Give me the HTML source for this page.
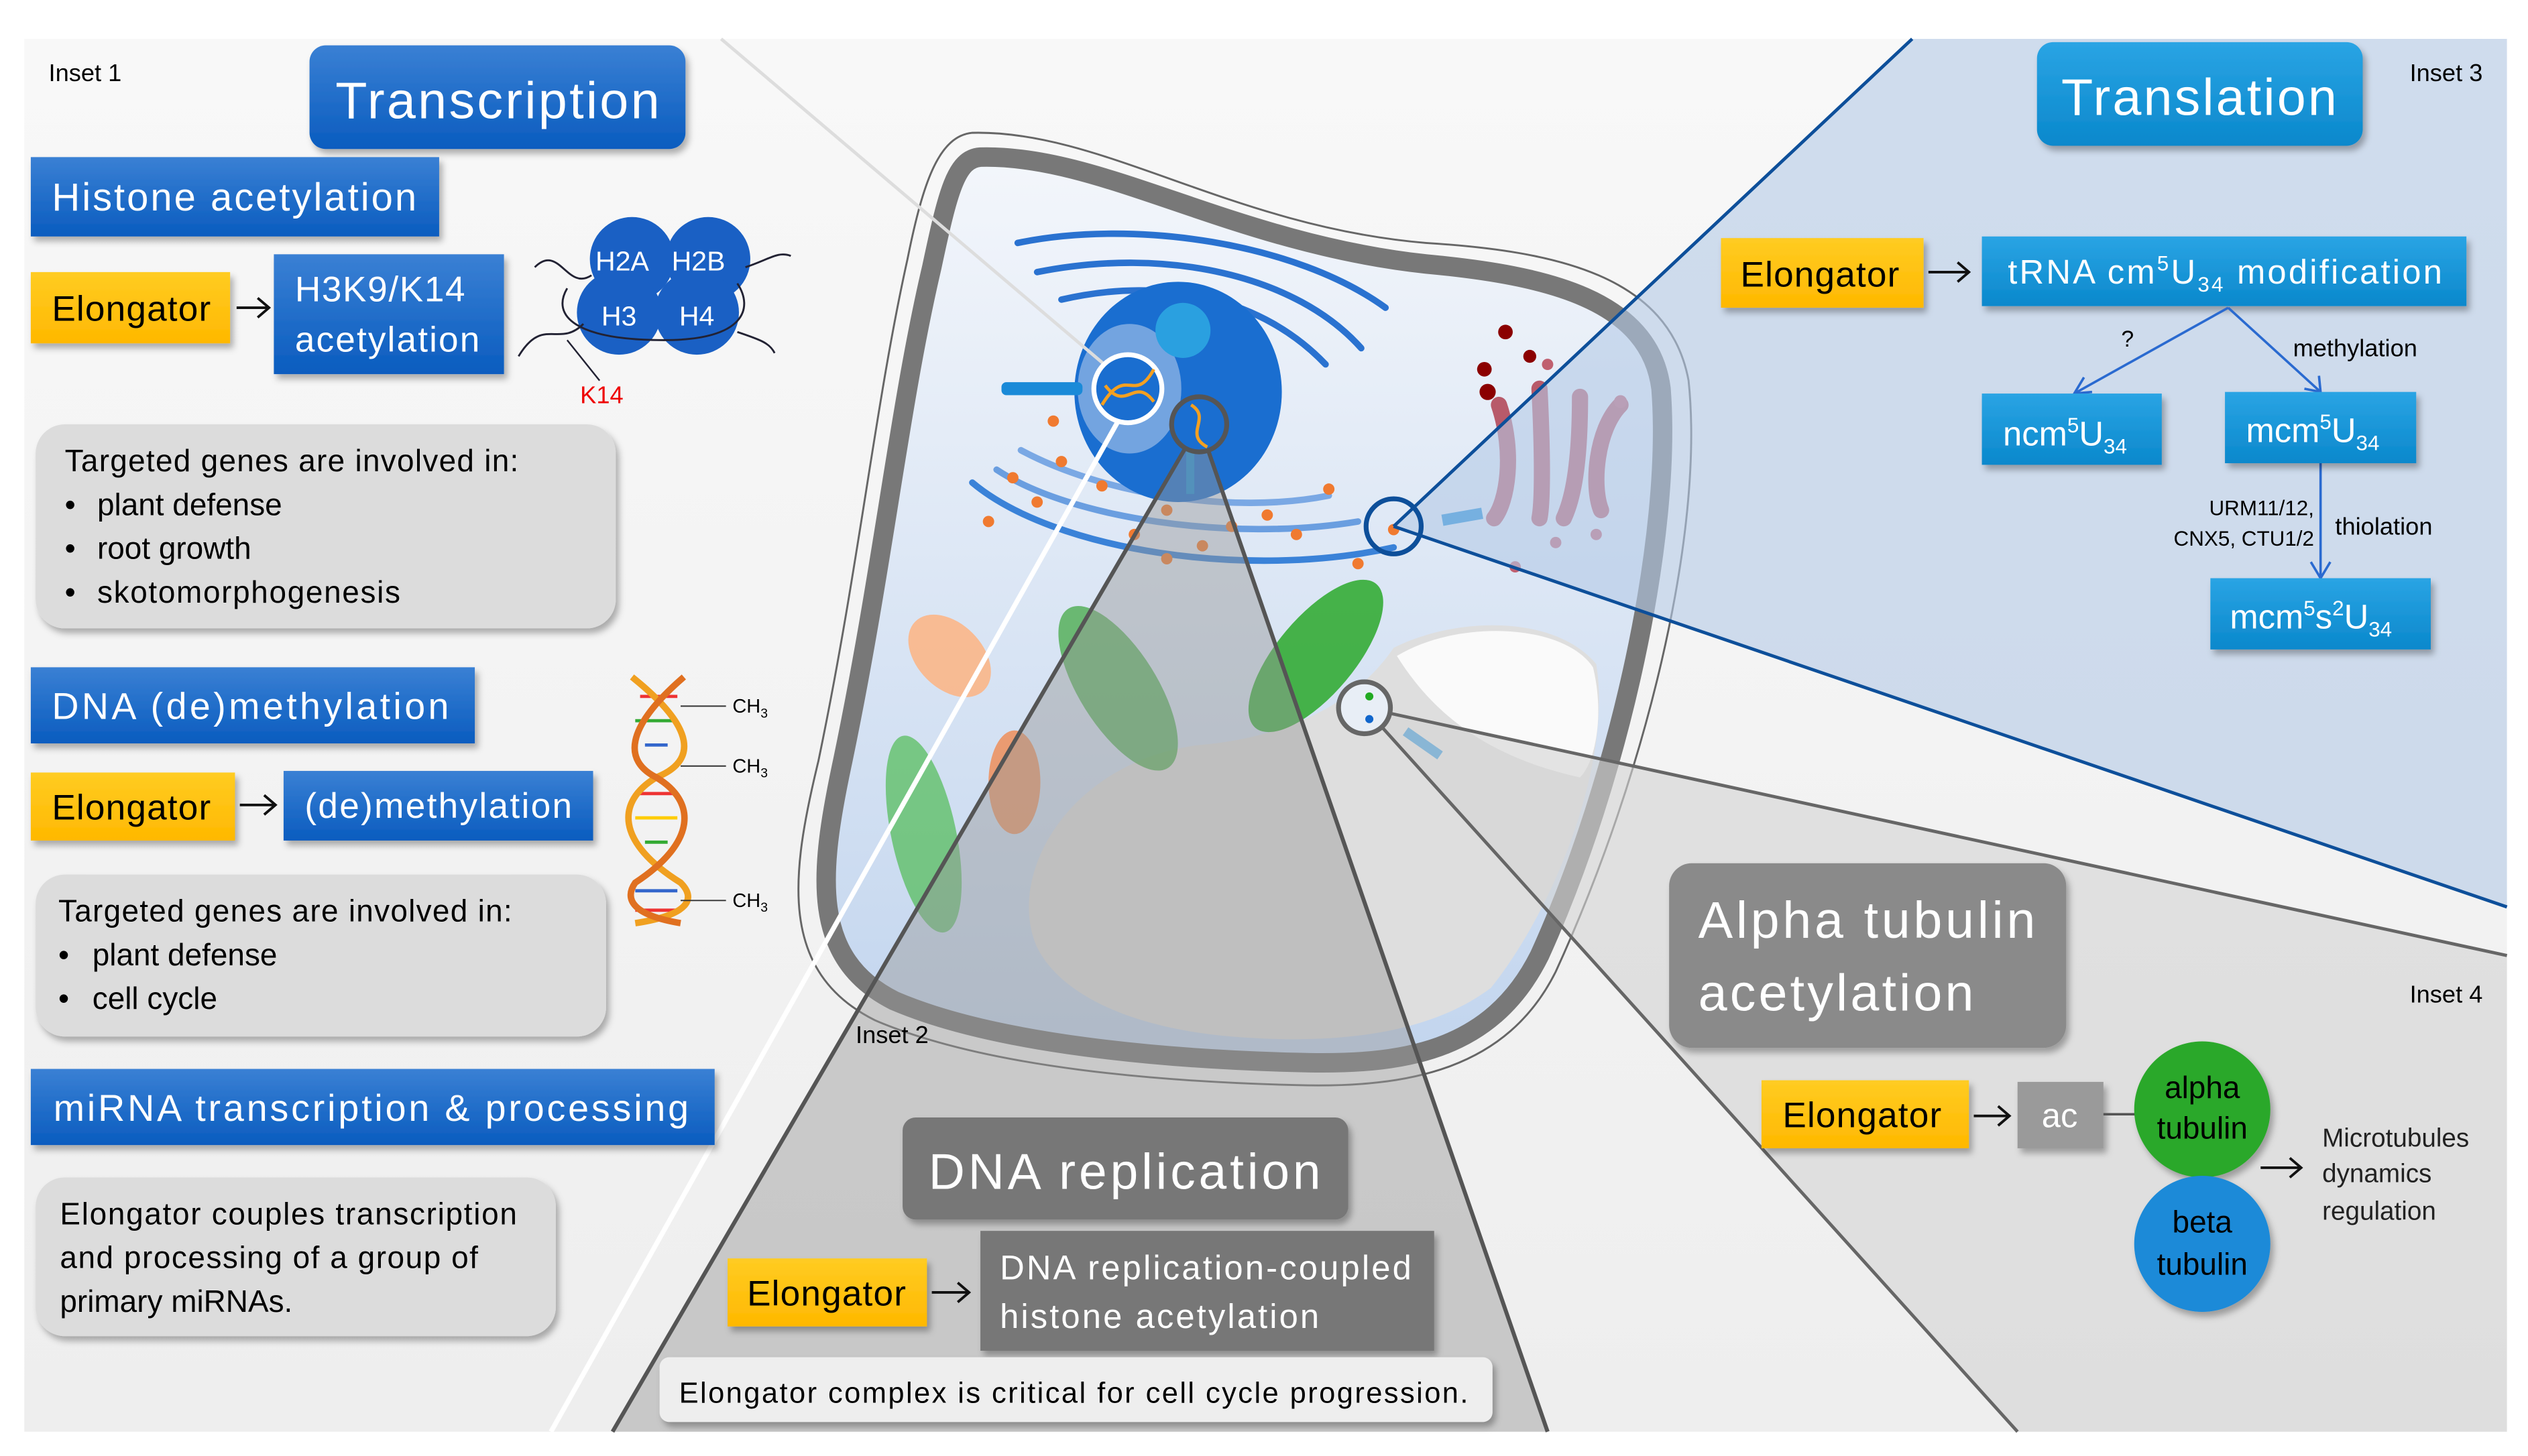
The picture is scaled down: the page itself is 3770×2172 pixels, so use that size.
<!DOCTYPE html>
<html><head><meta charset="utf-8"><style>
html,body{margin:0;padding:0;background:#fff}
svg{display:block}
text{font-family:"Liberation Sans",sans-serif}
</style></head><body>
<svg width="3770" height="2172" viewBox="0 0 1560 899" preserveAspectRatio="none" xmlns="http://www.w3.org/2000/svg">
<defs>
<linearGradient id="bg" x1="0" y1="0" x2="0" y2="1"><stop offset="0" stop-color="#f8f8f8"/><stop offset="1" stop-color="#eeeeee"/></linearGradient>
<linearGradient id="blue" x1="0" y1="0" x2="0" y2="1"><stop offset="0" stop-color="#3a80d4"/><stop offset="1" stop-color="#0a5cbf"/></linearGradient>
<linearGradient id="lblue" x1="0" y1="0" x2="0" y2="1"><stop offset="0" stop-color="#2aa4e4"/><stop offset="1" stop-color="#0a88cc"/></linearGradient>
<linearGradient id="yel" x1="0" y1="0" x2="0" y2="1"><stop offset="0" stop-color="#ffcc22"/><stop offset="1" stop-color="#ffb800"/></linearGradient>
<linearGradient id="cellf" x1="0" y1="0" x2="0" y2="1"><stop offset="0" stop-color="#f3f6fb"/><stop offset="1" stop-color="#c2d5ee"/></linearGradient>
<filter id="sh" x="-10%" y="-10%" width="130%" height="140%"><feDropShadow dx="2" dy="3" stdDeviation="2" flood-color="#000" flood-opacity="0.3"/></filter>
</defs>
<rect x="15" y="24" width="1532" height="860" fill="url(#bg)"/>

<!-- cell -->
<path d="M600,82 C680,80 760,140 880,150 C960,155 1030,170 1042,235 C1052,330 1015,480 960,600 C930,660 870,672 800,670 C720,668 610,660 540,630 C480,600 488,540 505,470 C530,350 540,250 560,160 C570,110 580,84 600,82Z" fill="none" stroke="#666" stroke-width="1.2"/>
<path d="M605,97 C680,95 760,150 880,163 C955,170 1018,185 1025,240 C1032,330 1000,480 950,590 C920,650 865,658 800,656 C720,654 615,645 552,618 C500,592 505,540 520,470 C545,350 555,250 575,165 C585,118 590,98 605,97Z" fill="url(#cellf)" stroke="#787878" stroke-width="12"/>
<!-- vacuole -->
<path d="M640,585 C620,540 660,470 740,460 C800,455 840,430 860,400 C900,380 960,380 985,410 C995,470 960,560 920,610 C880,640 820,645 760,640 C700,635 655,615 640,585Z" fill="#dedede"/>
<path d="M862,405 C900,382 965,385 983,412 C990,440 985,470 975,480 C930,470 890,450 862,405Z" fill="#fafafa"/>
<!-- chloroplasts -->
<ellipse cx="690" cy="425" rx="24" ry="58" transform="rotate(-32 690 425)" fill="#3aa53a" opacity="0.7"/>
<ellipse cx="812" cy="405" rx="24" ry="58" transform="rotate(40 812 405)" fill="#2aa82a" opacity="0.85"/>
<ellipse cx="570" cy="515" rx="20" ry="62" transform="rotate(-12 570 515)" fill="#3ab53a" opacity="0.6"/>
<ellipse cx="586" cy="405" rx="20" ry="30" transform="rotate(-45 586 405)" fill="#ffb07a" opacity="0.8"/>
<ellipse cx="626" cy="483" rx="16" ry="32" fill="#f08a50" opacity="0.8"/>
<!-- ER -->
<g fill="none" stroke="#2a72d0" stroke-width="4" stroke-linecap="round">
<path d="M628,150 C700,135 800,150 855,190"/>
<path d="M640,168 C720,152 800,170 840,215"/>
<path d="M655,185 C720,170 780,185 818,225"/>
<path d="M600,298 C650,340 770,358 860,338" stroke="#3a82d8"/>
<path d="M615,290 C660,320 760,335 838,322" stroke="#6a9ee0"/>
<path d="M630,278 C680,305 760,318 820,306" stroke="#7aa8e4"/>
</g>
<g fill="#f07a30">
<circle cx="610" cy="322" r="3.5"/><circle cx="640" cy="310" r="3.5"/><circle cx="655" cy="285" r="3.5"/><circle cx="680" cy="300" r="3.5"/><circle cx="700" cy="330" r="3.5"/><circle cx="720" cy="315" r="3.5"/><circle cx="742" cy="337" r="3.5"/><circle cx="760" cy="325" r="3.5"/><circle cx="782" cy="318" r="3.5"/><circle cx="820" cy="302" r="3.5"/><circle cx="800" cy="330" r="3.5"/><circle cx="650" cy="260" r="3.5"/><circle cx="720" cy="345" r="3.5"/><circle cx="838" cy="348" r="3.5"/><circle cx="860" cy="327" r="3.5"/><circle cx="625" cy="295" r="3.5"/>
</g>
<!-- golgi -->
<g fill="none" stroke="#b85a6a" stroke-width="10" stroke-linecap="round">
<path d="M925,250 C935,280 930,310 922,320"/><path d="M950,240 C952,280 952,310 950,320"/><path d="M975,245 C975,280 972,305 965,320"/><path d="M1000,250 C985,265 982,300 988,315"/>
</g>
<g fill="#8b0000"><circle cx="929" cy="205" r="4.5"/><circle cx="916" cy="228" r="4.5"/><circle cx="944" cy="220" r="4"/><circle cx="918" cy="242" r="5"/></g>
<g fill="#c06070"><circle cx="935" cy="350" r="3.5"/><circle cx="960" cy="335" r="3.5"/><circle cx="985" cy="330" r="3.5"/><circle cx="1000" cy="248" r="4"/><circle cx="955" cy="225" r="3.5"/></g>
<!-- nucleus -->
<ellipse cx="727" cy="242" rx="64" ry="68" fill="#1a6ed0"/>
<ellipse cx="697" cy="240" rx="32" ry="40" fill="#8ab2e4" opacity="0.8"/>
<ellipse cx="730" cy="204" rx="17" ry="17" fill="#2aa0e0"/>
<rect x="618" y="236" width="50" height="8" rx="3" fill="#1a8ad8"/>
<rect x="732" y="275" width="5" height="30" fill="#1a8ad8"/>
<rect x="890" y="316" width="25" height="7" fill="#1a8ad8" transform="rotate(-10 900 320)"/>
<rect x="865" y="456" width="26" height="6" fill="#1a8ad8" transform="rotate(35 878 459)"/>

<!-- inset 3 overlay -->
<path d="M860,325 L1180,24 L1547,24 L1547,560 Z" fill="#b4c9e6" opacity="0.6"/>
<line x1="860" y1="325" x2="1180" y2="24" stroke="#0d4f9a" stroke-width="2"/>
<line x1="860" y1="325" x2="1547" y2="560" stroke="#0d4f9a" stroke-width="2"/>
<circle cx="860" cy="325" r="17" fill="none" stroke="#0d4f9a" stroke-width="3"/>
<!-- inset 4 overlay -->
<path d="M842,437 L1547,590 L1547,884 L1245,884 Z" fill="#d4d4d4" opacity="0.6"/>
<line x1="842" y1="437" x2="1547" y2="590" stroke="#666" stroke-width="2"/>
<line x1="842" y1="437" x2="1245" y2="884" stroke="#666" stroke-width="2"/>
<circle cx="842" cy="437" r="16" fill="#e8eef6" stroke="#666" stroke-width="3"/>
<circle cx="845" cy="430" r="2.5" fill="#2a2"/><circle cx="845" cy="444" r="2.5" fill="#16c"/>
<!-- inset 2 overlay -->
<path d="M740,262 L378,884 L955,884 Z" fill="#9a9a9a" opacity="0.45"/>
<line x1="740" y1="262" x2="378" y2="884" stroke="#555" stroke-width="2.5"/>
<line x1="740" y1="262" x2="955" y2="884" stroke="#555" stroke-width="2.5"/>
<circle cx="740" cy="262" r="17" fill="#1a6ed0" stroke="#555" stroke-width="3"/>
<path d="M735,250 C748,258 730,268 745,276" stroke="#f5a020" stroke-width="2" fill="none"/>
<!-- inset 1 lines -->
<line x1="445" y1="24" x2="685" y2="228" stroke="#ddd" stroke-width="2"/>
<line x1="690" y1="260" x2="340" y2="884" stroke="#fff" stroke-width="3"/>
<circle cx="696" cy="240" r="21" fill="#1a6ed0" stroke="#fff" stroke-width="3"/>
<path d="M680,250 C695,225 700,250 712,228 M682,238 C695,255 700,232 712,248" stroke="#f5a020" stroke-width="2" fill="none"/>

<!-- arrows -->
<g stroke="#111" stroke-width="1.6" fill="none">
<path d="M146,190 H166 M159,184 L166,190 L159,196"/>
<path d="M148,497 H170 M163,491 L170,497 L163,503"/>
<path d="M1190,168 H1215 M1208,162 L1215,168 L1208,174"/>
<path d="M1218,689 H1240 M1233,683 L1240,689 L1233,695"/>
<path d="M575,798 H598 M591,792 L598,798 L591,804"/>
<path d="M1395,721 H1420 M1413,715 L1420,721 L1413,727"/>
</g>

<!-- Left texts -->
<text x="30" y="50" font-size="15">Inset 1</text>
<rect x="191" y="28" width="232" height="64" rx="10" fill="url(#blue)" filter="url(#sh)"/>
<text x="307" y="73" font-size="32" fill="#fff" text-anchor="middle" textLength="200">Transcription</text>
<rect x="19" y="97" width="252" height="49" fill="url(#blue)" filter="url(#sh)"/>
<text x="32" y="130" font-size="24" fill="#fff" textLength="225">Histone acetylation</text>
<rect x="19" y="168" width="123" height="44" fill="url(#yel)" filter="url(#sh)"/>
<text x="32" y="198" font-size="22" textLength="98">Elongator</text>
<rect x="169" y="157" width="142" height="74" fill="url(#blue)" filter="url(#sh)"/>
<text x="182" y="186" font-size="22" fill="#fff" textLength="105">H3K9/K14</text>
<text x="182" y="217" font-size="22" fill="#fff" textLength="114">acetylation</text>
<g fill="#1a60c4"><circle cx="390" cy="160" r="26"/><circle cx="437" cy="160" r="26"/><circle cx="382" cy="193" r="26"/><circle cx="430" cy="193" r="26"/></g>
<path d="M330,165 C345,150 350,180 365,170 M320,220 C335,195 345,215 360,200 M460,165 C475,160 480,155 488,158 M455,205 C470,210 475,212 478,218 M350,178 C340,195 355,210 410,210 C460,210 465,190 455,175" stroke="#223" stroke-width="1.2" fill="none"/>
<line x1="350" y1="210" x2="370" y2="235" stroke="#223" stroke-width="1"/>
<text x="384" y="167" font-size="17" fill="#fff" text-anchor="middle">H2A</text>
<text x="431" y="167" font-size="17" fill="#fff" text-anchor="middle">H2B</text>
<text x="382" y="201" font-size="17" fill="#fff" text-anchor="middle">H3</text>
<text x="430" y="201" font-size="17" fill="#fff" text-anchor="middle">H4</text>
<text x="358" y="249" font-size="15" fill="#e00">K14</text>

<rect x="22" y="262" width="358" height="126" rx="18" fill="#dcdcdc" filter="url(#sh)"/>
<g font-size="19"><text x="40" y="291" textLength="280">Targeted genes are involved in:</text>
<text x="40" y="318">•</text><text x="60" y="318">plant defense</text>
<text x="40" y="345">•</text><text x="60" y="345">root growth</text>
<text x="40" y="372">•</text><text x="60" y="372" textLength="187">skotomorphogenesis</text></g>

<rect x="19" y="412" width="274" height="47" fill="url(#blue)" filter="url(#sh)"/>
<text x="32" y="444" font-size="23" fill="#fff" textLength="245">DNA (de)methylation</text>
<rect x="19" y="477" width="126" height="42" fill="url(#yel)" filter="url(#sh)"/>
<text x="32" y="506" font-size="22" textLength="98">Elongator</text>
<rect x="175" y="476" width="191" height="43" fill="url(#blue)" filter="url(#sh)"/>
<text x="188" y="505" font-size="22" fill="#fff" textLength="165">(de)methylation</text>
<!-- DNA helix -->
<g stroke-width="2">
<line x1="395" y1="430" x2="418" y2="430" stroke="#e33"/><line x1="392" y1="445" x2="418" y2="445" stroke="#3a3"/><line x1="398" y1="460" x2="412" y2="460" stroke="#36c"/><line x1="392" y1="490" x2="418" y2="490" stroke="#e33"/><line x1="392" y1="505" x2="418" y2="505" stroke="#fc0"/><line x1="398" y1="520" x2="412" y2="520" stroke="#3a3"/><line x1="392" y1="550" x2="418" y2="550" stroke="#36c"/><line x1="392" y1="562" x2="418" y2="562" stroke="#e33"/>
</g>
<path d="M390,418 C430,450 430,470 405,480 C380,495 380,520 420,545 C430,555 425,565 392,570" stroke="#f0a020" stroke-width="4" fill="none"/>
<path d="M422,418 C385,450 385,470 405,480 C430,495 430,520 392,545 C385,555 390,565 420,570" stroke="#e07020" stroke-width="4" fill="none"/>
<g stroke="#333" stroke-width="0.8"><line x1="420" y1="436" x2="448" y2="436"/><line x1="420" y1="473" x2="448" y2="473"/><line x1="420" y1="556" x2="448" y2="556"/></g>
<g font-size="12"><text x="452" y="440">CH<tspan font-size="8" dy="3">3</tspan></text><text x="452" y="477">CH<tspan font-size="8" dy="3">3</tspan></text><text x="452" y="560">CH<tspan font-size="8" dy="3">3</tspan></text></g>

<rect x="22" y="540" width="352" height="100" rx="18" fill="#dcdcdc" filter="url(#sh)"/>
<g font-size="19"><text x="36" y="569" textLength="280">Targeted genes are involved in:</text>
<text x="36" y="596">•</text><text x="57" y="596">plant defense</text>
<text x="36" y="623">•</text><text x="57" y="623">cell cycle</text></g>

<rect x="19" y="660" width="422" height="47" fill="url(#blue)" filter="url(#sh)"/>
<text x="33" y="692" font-size="23" fill="#fff" textLength="392">miRNA transcription &amp; processing</text>
<rect x="22" y="727" width="321" height="98" rx="18" fill="#dcdcdc" filter="url(#sh)"/>
<g font-size="19"><text x="37" y="756" textLength="282">Elongator couples transcription</text>
<text x="37" y="783" textLength="258">and processing of a group of</text>
<text x="37" y="810">primary miRNAs.</text></g>

<!-- Inset 3 texts -->
<text x="1487" y="50" font-size="15">Inset 3</text>
<rect x="1257" y="26" width="201" height="64" rx="10" fill="url(#lblue)" filter="url(#sh)"/>
<text x="1357" y="71" font-size="32" fill="#fff" text-anchor="middle" textLength="170">Translation</text>
<rect x="1062" y="147" width="125" height="43" fill="url(#yel)" filter="url(#sh)"/>
<text x="1074" y="177" font-size="22" textLength="98">Elongator</text>
<rect x="1223" y="146" width="299" height="43" fill="url(#lblue)" filter="url(#sh)"/>
<text x="1239" y="175" font-size="21" fill="#fff" textLength="268">tRNA cm<tspan font-size="13" dy="-8">5</tspan><tspan dy="8">U</tspan><tspan font-size="13" dy="5">34</tspan><tspan dy="-5"> modification</tspan></text>
<g stroke="#2a6ad0" stroke-width="1.5" fill="none">
<line x1="1375" y1="190" x2="1280" y2="243"/><polyline points="1286,233 1280,243 1291,242"/>
<line x1="1375" y1="190" x2="1432" y2="242"/><polyline points="1422,240 1432,242 1431,232"/>
<line x1="1432" y1="286" x2="1432" y2="357"/><polyline points="1426,347 1432,357 1438,347"/>
</g>
<text x="1309" y="214" font-size="14">?</text>
<text x="1415" y="220" font-size="15">methylation</text>
<text x="1428" y="318" font-size="13" text-anchor="end">URM11/12,</text>
<text x="1428" y="337" font-size="13" text-anchor="end">CNX5, CTU1/2</text>
<text x="1441" y="330" font-size="15">thiolation</text>
<rect x="1223" y="243" width="111" height="44" fill="url(#lblue)" filter="url(#sh)"/>
<text x="1236" y="275" font-size="21" fill="#fff">ncm<tspan font-size="13" dy="-8">5</tspan><tspan dy="8">U</tspan><tspan font-size="13" dy="5">34</tspan></text>
<rect x="1373" y="242" width="118" height="44" fill="url(#lblue)" filter="url(#sh)"/>
<text x="1386" y="273" font-size="21" fill="#fff">mcm<tspan font-size="13" dy="-8">5</tspan><tspan dy="8">U</tspan><tspan font-size="13" dy="5">34</tspan></text>
<rect x="1364" y="357" width="136" height="44" fill="url(#lblue)" filter="url(#sh)"/>
<text x="1376" y="388" font-size="21" fill="#fff">mcm<tspan font-size="13" dy="-8">5</tspan><tspan dy="8">s</tspan><tspan font-size="13" dy="-8">2</tspan><tspan dy="8">U</tspan><tspan font-size="13" dy="5">34</tspan></text>

<!-- Inset 4 -->
<text x="1487" y="619" font-size="15">Inset 4</text>
<rect x="1030" y="533" width="245" height="114" rx="14" fill="#8a8a8a" filter="url(#sh)"/>
<text x="1048" y="579" font-size="32" fill="#fff" textLength="208">Alpha tubulin</text>
<text x="1048" y="624" font-size="32" fill="#fff" textLength="170">acetylation</text>
<rect x="1087" y="667" width="128" height="42" fill="url(#yel)" filter="url(#sh)"/>
<text x="1100" y="696" font-size="22" textLength="98">Elongator</text>
<rect x="1245" y="668" width="53" height="41" fill="#9a9a9a" filter="url(#sh)"/>
<text x="1271" y="696" font-size="21" fill="#fff" text-anchor="middle">ac</text>
<line x1="1298" y1="688" x2="1318" y2="688" stroke="#555" stroke-width="1.5"/>
<circle cx="1359" cy="685" r="42" fill="#2aa82a" filter="url(#sh)"/>
<circle cx="1359" cy="768" r="42" fill="#1a8ad8" filter="url(#sh)"/>
<text x="1359" y="678" font-size="19" text-anchor="middle">alpha</text>
<text x="1359" y="703" font-size="19" text-anchor="middle">tubulin</text>
<text x="1359" y="761" font-size="19" text-anchor="middle">beta</text>
<text x="1359" y="787" font-size="19" text-anchor="middle">tubulin</text>
<g font-size="16" fill="#222"><text x="1433" y="708">Microtubules</text><text x="1433" y="730">dynamics</text><text x="1433" y="753">regulation</text></g>

<!-- Inset 2 -->
<text x="528" y="644" font-size="15">Inset 2</text>
<rect x="557" y="690" width="275" height="63" rx="8" fill="#777" filter="url(#sh)"/>
<text x="694" y="734" font-size="31" fill="#fff" text-anchor="middle" textLength="242">DNA replication</text>
<rect x="449" y="777" width="123" height="42" fill="url(#yel)" filter="url(#sh)"/>
<text x="461" y="806" font-size="22" textLength="98">Elongator</text>
<rect x="605" y="760" width="280" height="74" fill="#777" filter="url(#sh)"/>
<text x="617" y="790" font-size="21" fill="#fff" textLength="254">DNA replication-coupled</text>
<text x="617" y="820" font-size="21" fill="#fff" textLength="197">histone acetylation</text>
<rect x="407" y="838" width="514" height="40" rx="6" fill="#eeeeee" filter="url(#sh)"/>
<text x="419" y="866" font-size="18" textLength="487">Elongator complex is critical for cell cycle progression.</text>
</svg>
</body></html>
